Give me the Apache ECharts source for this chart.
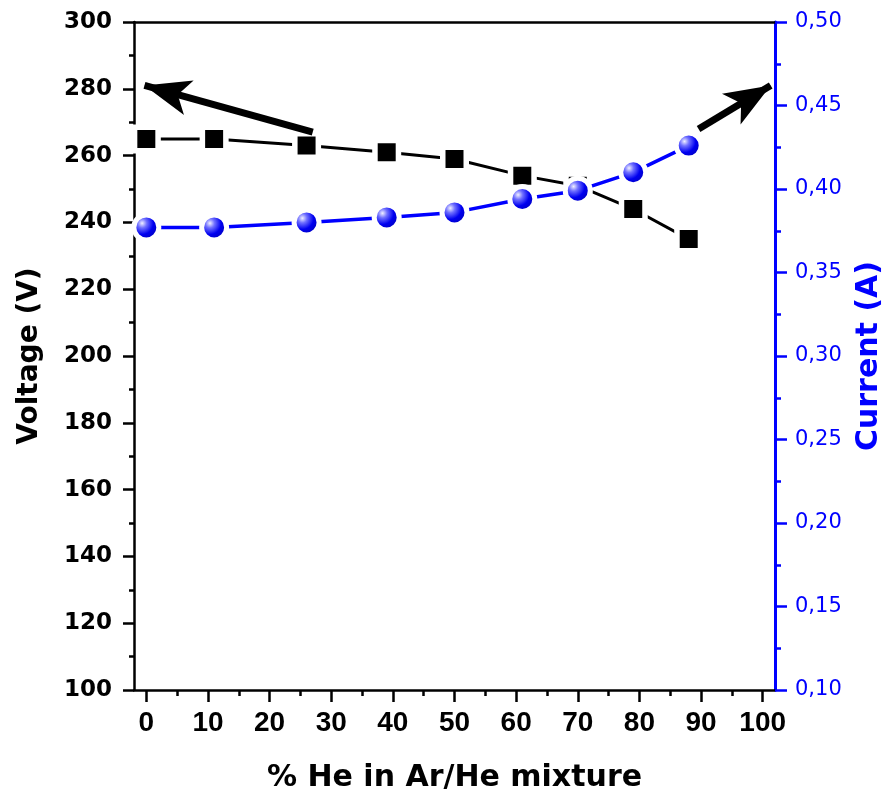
<!DOCTYPE html>
<html>
<head>
<meta charset="utf-8">
<script src="https://cdn.jsdelivr.net/npm/echarts@6/dist/echarts.min.js"></script>
<style>
html,body{margin:0;padding:0;background:#fff;}
#chart{width:892px;height:798px;}
</style>
</head>
<body>
<div id="chart"></div>
<script>
// ---- data ----
const hePercent = [0, 11, 26, 39, 50, 61, 70, 79, 88];
const voltage = [265, 265, 263, 261, 259, 254, 251, 244, 235];
const current = [0.377, 0.377, 0.380, 0.383, 0.386, 0.394, 0.399, 0.410, 0.426];

const xMajorTicks = [0, 10, 20, 30, 40, 50, 60, 70, 80, 90, 100];
const xMinorTicks = [5, 15, 25, 35, 45, 55, 65, 75, 85, 95];

// annotation arrows (data space): [tail, tip]
const arrowVoltage = [[27, 267], [-0.3, 281]];
const arrowCurrent = [[89.6, 0.436], [101.3, 0.462]];

const xTitle = '% He in Ar/He mixture';
const yLeftTitle = 'Voltage (V)';
const yRightTitle = 'Current (A)';

// ---- chart ----
const chart = echarts.init(document.getElementById('chart'), null, {renderer: 'canvas'});

const voltagePts = hePercent.map((x, i) => [x, voltage[i]]);
const currentPts = hePercent.map((x, i) => [x, current[i]]);

const BLUE = '#0000ff';
const sphere = {
  type: 'radial', x: 0.36, y: 0.36, r: 0.62,
  colorStops: [
    {offset: 0, color: '#f0f0ff'},
    {offset: 0.25, color: '#7070ff'},
    {offset: 0.6, color: '#0000f0'},
    {offset: 1, color: '#0000b8'}
  ]
};

function arrowLine(a) {
  return [[{coord: a[0], symbol: 'none'}, {coord: a[1], symbol: 'arrow'}]];
}

const option = {
  animation: false,
  backgroundColor: '#fff',
  grid: {left: 134, right: 116, top: 22, bottom: 107, containLabel: false},
  xAxis: [
    {
      type: 'value', min: -2, max: 102, position: 'bottom',
      name: xTitle, nameLocation: 'middle', nameGap: 73,
      nameTextStyle: {fontFamily: 'DejaVu Sans', fontWeight: 'bold', fontSize: 30, color: '#000'},
      axisLine: {show: true, onZero: false, lineStyle: {color: '#000', width: 2.5}},
      axisTick: {show: true, inside: false, length: 12, lineStyle: {color: '#000', width: 2.5}, customValues: xMajorTicks},
      axisLabel: {show: true, margin: 19, customValues: xMajorTicks,
        fontFamily: 'Liberation Sans', fontWeight: 'bold', fontSize: 28, color: '#000'},
      splitLine: {show: false}
    },
    {
      type: 'value', min: -2, max: 102, position: 'bottom',
      axisLine: {show: false, onZero: false},
      axisTick: {show: true, inside: false, length: 6, lineStyle: {color: '#000', width: 2.5}, customValues: xMinorTicks},
      axisLabel: {show: false},
      splitLine: {show: false}
    },
    {
      type: 'value', min: -2, max: 102, position: 'top',
      axisLine: {show: true, onZero: false, lineStyle: {color: '#000', width: 2.5}},
      axisTick: {show: false}, axisLabel: {show: false}, splitLine: {show: false}
    }
  ],
  yAxis: [
    {
      type: 'value', min: 100, max: 300, interval: 20, position: 'left',
      name: yLeftTitle, nameLocation: 'middle', nameGap: 90, nameRotate: 90,
      nameTextStyle: {fontFamily: 'DejaVu Sans', fontWeight: 'bold', fontSize: 28, color: '#000'},
      axisLine: {show: true, onZero: false, lineStyle: {color: '#000', width: 2.5}},
      axisTick: {show: true, inside: false, length: 11, lineStyle: {color: '#000', width: 2.5}},
      minorTick: {show: true, splitNumber: 2, length: 5, lineStyle: {color: '#000', width: 2.5}},
      axisLabel: {margin: 22, fontFamily: 'DejaVu Sans', fontWeight: 'bold', fontSize: 23, color: '#000'},
      splitLine: {show: false}
    },
    {
      type: 'value', min: 0.10, max: 0.50, interval: 0.05, position: 'right',
      name: yRightTitle, nameLocation: 'middle', nameGap: 79, nameRotate: 90,
      nameTextStyle: {fontFamily: 'DejaVu Sans', fontWeight: 'bold', fontSize: 30, color: BLUE},
      axisLine: {show: true, onZero: false, lineStyle: {color: BLUE, width: 3}},
      axisTick: {show: true, inside: false, length: 12, lineStyle: {color: BLUE, width: 2.5}},
      minorTick: {show: true, splitNumber: 2, length: 6, lineStyle: {color: BLUE, width: 2.5}},
      axisLabel: {margin: 20, fontFamily: 'DejaVu Sans', fontSize: 21, color: BLUE,
        formatter: v => v.toFixed(2).replace('.', ',')},
      splitLine: {show: false}
    }
  ],
  series: [
    {
      name: 'Voltage', type: 'line', xAxisIndex: 0, yAxisIndex: 0,
      data: voltagePts, symbol: 'rect', symbolSize: 23.5,
      lineStyle: {color: '#000', width: 3},
      itemStyle: {color: '#000', borderColor: '#fff', borderWidth: 5.5},
      z: 3
    },
    {
      name: 'Current', type: 'line', xAxisIndex: 0, yAxisIndex: 1,
      data: currentPts, symbol: 'circle', symbolSize: 25,
      lineStyle: {color: BLUE, width: 3.5},
      itemStyle: {color: sphere, borderColor: '#fff', borderWidth: 5},
      z: 4
    },
    {
      type: 'line', xAxisIndex: 0, yAxisIndex: 0, data: [], z: 6,
      markLine: {
        silent: true, animation: false,
        symbolSize: [27, 46],
        label: {show: false},
        lineStyle: {color: '#000', width: 7, type: 'solid'},
        data: arrowLine(arrowVoltage)
      }
    },
    {
      type: 'line', xAxisIndex: 0, yAxisIndex: 1, data: [], z: 6,
      markLine: {
        silent: true, animation: false,
        symbolSize: [27, 46],
        label: {show: false},
        lineStyle: {color: '#000', width: 7, type: 'solid'},
        data: arrowLine(arrowCurrent)
      }
    }
  ]
};
chart.setOption(option);
</script>
</body>
</html>
